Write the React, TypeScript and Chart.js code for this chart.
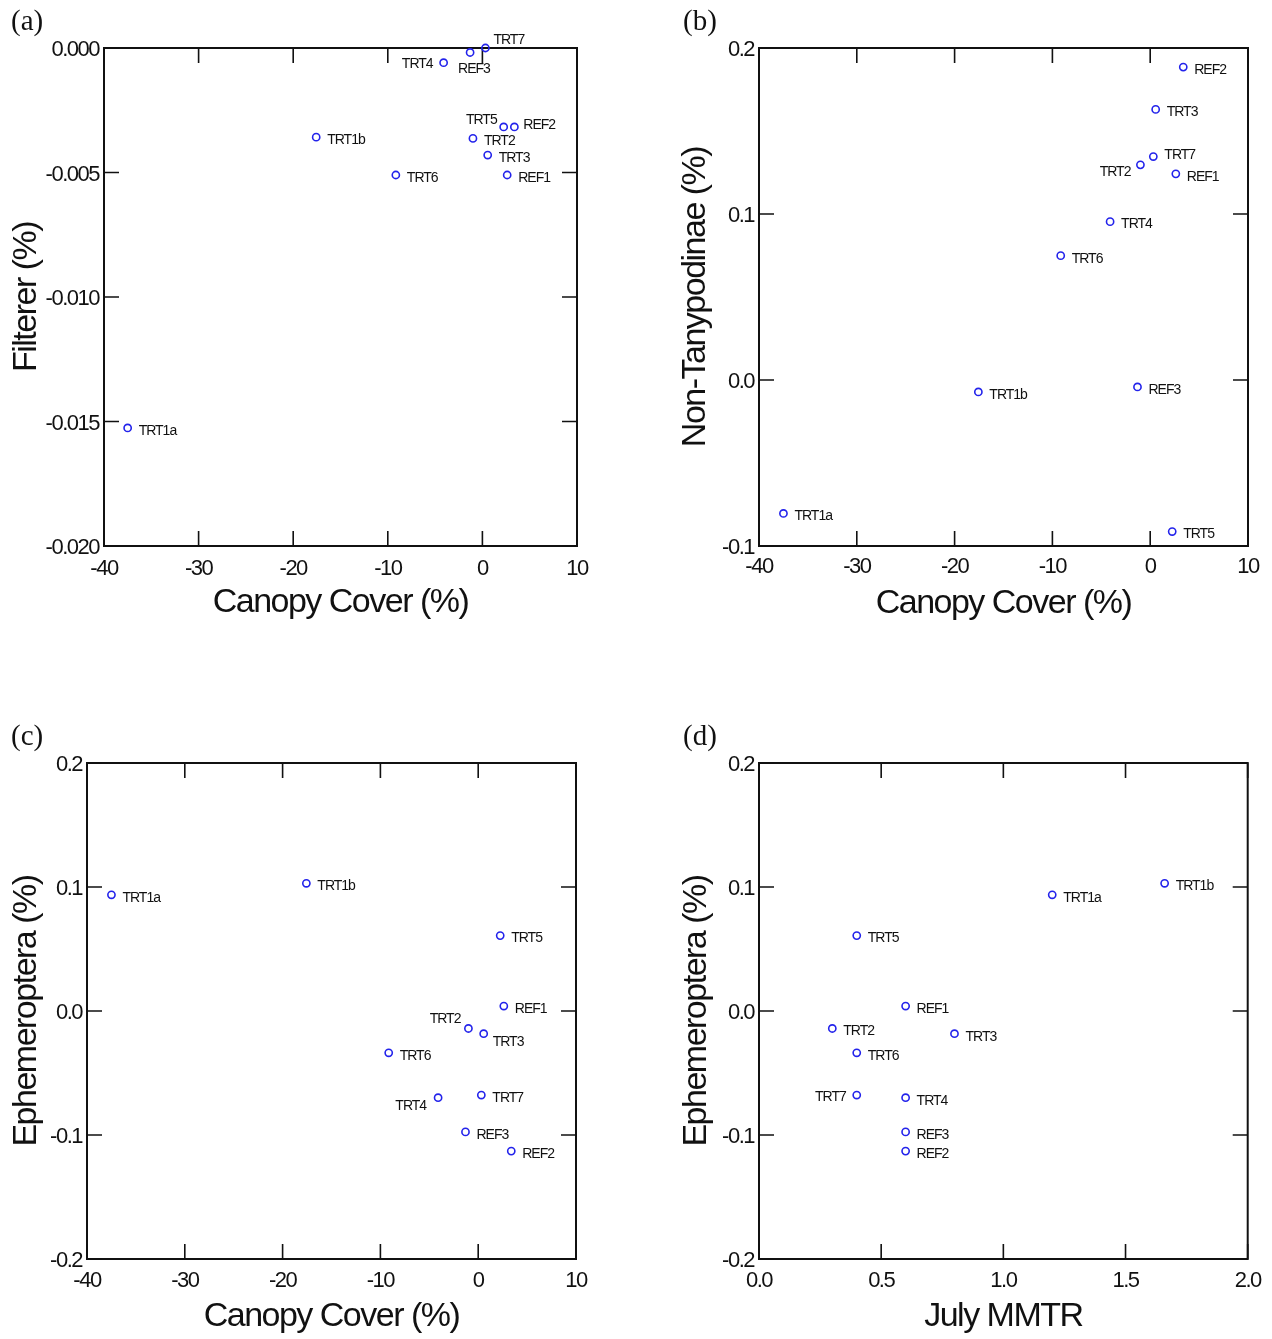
import React, { useEffect, useRef } from "react";
import { Chart, registerables } from "chart.js";

Chart.register(...registerables);

// ---------------- DATA ----------------
const sites = ["TRT1a", "TRT1b", "TRT2", "TRT3", "TRT4", "TRT5", "TRT6", "TRT7", "REF1", "REF2", "REF3"];
const canopyCover = [-37.5, -17.57, -1.0, 0.56, -4.1, 2.25, -9.15, 0.32, 2.62, 3.38, -1.3];
const filterer = [-0.01526, -0.00358, -0.00363, -0.0043, -0.00059, -0.00317, -0.0051, 0.0, -0.0051, -0.00317, -0.00018];
const nonTanypodinae = [-0.0804, -0.0072, 0.1296, 0.163, 0.0954, -0.0913, 0.0749, 0.1346, 0.1242, 0.1885, -0.0042];
const ephemeroptera = [0.0937, 0.103, -0.0141, -0.0183, -0.0699, 0.0608, -0.0337, -0.0678, 0.004, -0.113, -0.0975];
const julyMMTR = [1.2, 1.66, 0.3, 0.8, 0.6, 0.4, 0.4, 0.4, 0.6, 0.6, 0.6];

const canopyTicks = [-40, -30, -20, -10, 0, 10];
const mmtrTicks = [0.0, 0.5, 1.0, 1.5, 2.0];
const filtererTicks = [-0.02, -0.015, -0.01, -0.005, 0.0];
const nonTanyTicks = [-0.1, 0.0, 0.1, 0.2];
const ephemTicks = [-0.2, -0.1, 0.0, 0.1, 0.2];

// -------------- STYLE / LAYOUT --------------
const SANS = "'Liberation Sans', Arial, Helvetica, sans-serif";
const SERIF = "'Liberation Serif', 'Times New Roman', serif";
const POINT_COLOR = "rgb(35,35,235)";
const INK = "#111";

type Off = [number, number, "left" | "right"];
const DEF: Off = [11, 3, "left"];

// label offsets per site (styling only)
const offsA: Record<string, Off> = {
  TRT7: [8, -8, "left"],
  REF3: [-12, 17, "left"],
  TRT4: [-11, 1, "right"],
  TRT5: [-7, -7, "right"],
  REF2: [9, -2, "left"],
};
const offsB: Record<string, Off> = {
  TRT2: [-10, 7, "right"],
  TRT7: [11, -1, "left"],
};
const offsC: Record<string, Off> = {
  TRT2: [-8, -9, "right"],
  TRT3: [9, 8, "left"],
  TRT4: [-12, 8, "right"],
};
const offsD: Record<string, Off> = {
  TRT7: [-11, 2, "right"],
};

type PanelCfg = {
  letter: string;
  left: number; top: number; w: number; h: number;
  L: number; T: number; R: number; B: number;
  xs: number[]; ys: number[];
  xTicks: number[]; yTicks: number[];
  xDec: number; yDec: number;
  xTitle: string; yTitle: string;
  xTitlePad: number; yTitlePad: number; xTickPad: number;
  letterX: number; letterY: number;
  offs: Record<string, Off>;
};

const panels: PanelCfg[] = [
  {
    letter: "(a)", left: 0, top: 0, w: 640, h: 640,
    L: 104, T: 48, R: 577, B: 546,
    xs: canopyCover, ys: filterer, xTicks: canopyTicks, yTicks: filtererTicks,
    xDec: 0, yDec: 3, xTitle: "Canopy Cover (%)", yTitle: "Filterer (%)",
    xTitlePad: 17, yTitlePad: 6, xTickPad: 10, letterX: 11, letterY: 30, offs: offsA,
  },
  {
    letter: "(b)", left: 640, top: 0, w: 632, h: 640,
    L: 119, T: 48, R: 608, B: 546,
    xs: canopyCover, ys: nonTanypodinae, xTicks: canopyTicks, yTicks: nonTanyTicks,
    xDec: 0, yDec: 1, xTitle: "Canopy Cover (%)", yTitle: "Non-Tanypodinae (%)",
    xTitlePad: 16, yTitlePad: 35, xTickPad: 8, letterX: 43, letterY: 30, offs: offsB,
  },
  {
    letter: "(c)", left: 0, top: 700, w: 640, h: 639,
    L: 87, T: 63, R: 576, B: 559,
    xs: canopyCover, ys: ephemeroptera, xTicks: canopyTicks, yTicks: ephemTicks,
    xDec: 0, yDec: 1, xTitle: "Canopy Cover (%)", yTitle: "Ephemeroptera (%)",
    xTitlePad: 2, yTitlePad: 6, xTickPad: 9, letterX: 11, letterY: 45, offs: offsC,
  },
  {
    letter: "(d)", left: 640, top: 700, w: 632, h: 639,
    L: 119, T: 63, R: 608, B: 559,
    xs: julyMMTR, ys: ephemeroptera, xTicks: mmtrTicks, yTicks: ephemTicks,
    xDec: 1, yDec: 1, xTitle: "July MMTR", yTitle: "Ephemeroptera (%)",
    xTitlePad: 2, yTitlePad: 36, xTickPad: 9, letterX: 43, letterY: 45, offs: offsD,
  },
];

function fmt(v: number, dec: number) {
  if (Math.abs(v) < 1e-12) return (0).toFixed(dec);
  return v.toFixed(dec);
}

function buildConfig(p: PanelCfg): any {
  const deco = {
    id: "deco",
    beforeDraw(chart: any) {
      (chart.ctx as any).letterSpacing = "-1.5px";
    },
    beforeDatasetsDraw(chart: any) {
      const ctx = chart.ctx;
      const { left, top, right, bottom } = chart.chartArea;
      const xs = chart.scales.x;
      const ys = chart.scales.y;
      ctx.save();
      ctx.strokeStyle = INK;
      ctx.lineWidth = 2;
      ctx.strokeRect(left, top, right - left, bottom - top);
      ctx.lineWidth = 1.6;
      const TL = 15;
      ctx.beginPath();
      for (const t of xs.ticks) {
        const px = xs.getPixelForValue(t.value);
        ctx.moveTo(px, bottom);
        ctx.lineTo(px, bottom - TL);
        ctx.moveTo(px, top);
        ctx.lineTo(px, top + TL);
      }
      for (const t of ys.ticks) {
        const py = ys.getPixelForValue(t.value);
        ctx.moveTo(left, py);
        ctx.lineTo(left + TL, py);
        ctx.moveTo(right, py);
        ctx.lineTo(right - TL, py);
      }
      ctx.stroke();
      ctx.restore();
    },
    afterDatasetsDraw(chart: any) {
      const ctx = chart.ctx;
      const meta = chart.getDatasetMeta(0);
      ctx.save();
      (ctx as any).letterSpacing = "-1px";
      ctx.font = `14px ${SANS}`;
      ctx.fillStyle = INK;
      ctx.textBaseline = "middle";
      meta.data.forEach((el: any, i: number) => {
        const name = sites[i];
        const o = p.offs[name] || DEF;
        ctx.textAlign = o[2];
        ctx.fillText(name, el.x + o[0], el.y + o[1]);
      });
      ctx.restore();
    },
    afterDraw(chart: any) {
      const ctx = chart.ctx;
      ctx.save();
      (ctx as any).letterSpacing = "0px";
      ctx.font = `29px ${SERIF}`;
      ctx.fillStyle = INK;
      ctx.textAlign = "left";
      ctx.textBaseline = "alphabetic";
      ctx.fillText(p.letter, p.letterX, p.letterY);
      ctx.restore();
    },
  };

  const tickFont = { family: SANS, size: 22 };
  const titleFont = { family: SANS, size: 34 };

  return {
    type: "scatter",
    data: {
      datasets: [
        {
          data: p.xs.map((x, i) => ({ x, y: p.ys[i] })),
          pointStyle: "circle",
          pointRadius: 3.6,
          pointBorderWidth: 1.6,
          borderColor: POINT_COLOR,
          pointBorderColor: POINT_COLOR,
          backgroundColor: "rgba(0,0,0,0)",
          pointBackgroundColor: "rgba(0,0,0,0)",
          showLine: false,
          clip: false,
        },
      ],
    },
    options: {
      animation: false,
      responsive: false,
      maintainAspectRatio: false,
      events: [],
      layout: { padding: { left: 0, top: p.T, right: p.w - p.R, bottom: 0 } },
      plugins: { legend: { display: false }, tooltip: { enabled: false } },
      scales: {
        x: {
          type: "linear",
          position: "bottom",
          min: p.xTicks[0],
          max: p.xTicks[p.xTicks.length - 1],
          afterBuildTicks: (s: any) => {
            s.ticks = p.xTicks.map((v) => ({ value: v }));
          },
          afterFit: (s: any) => {
            s.height = p.h - p.B;
          },
          grid: { display: false, drawTicks: false },
          border: { display: false },
          ticks: {
            autoSkip: false,
            maxRotation: 0,
            minRotation: 0,
            padding: p.xTickPad,
            color: INK,
            font: tickFont,
            callback: (v: any) => fmt(Number(v), p.xDec),
          },
          title: {
            display: true,
            text: p.xTitle,
            color: INK,
            font: titleFont,
            padding: { top: 0, bottom: p.xTitlePad },
          },
        },
        y: {
          type: "linear",
          position: "left",
          min: p.yTicks[0],
          max: p.yTicks[p.yTicks.length - 1],
          afterBuildTicks: (s: any) => {
            s.ticks = p.yTicks.map((v) => ({ value: v }));
          },
          afterFit: (s: any) => {
            s.width = p.L;
          },
          grid: { display: false, drawTicks: false },
          border: { display: false },
          ticks: {
            autoSkip: false,
            padding: 5,
            labelOffset: 2,
            color: INK,
            font: tickFont,
            callback: (v: any) => fmt(Number(v), p.yDec),
          },
          title: {
            display: true,
            text: p.yTitle,
            color: INK,
            font: titleFont,
            padding: { top: p.yTitlePad, bottom: 0 },
          },
        },
      },
    },
    plugins: [deco],
  };
}

function Panel({ p }: { p: PanelCfg }) {
  const ref = useRef<HTMLCanvasElement>(null);
  useEffect(() => {
    const chart = new Chart(ref.current as HTMLCanvasElement, buildConfig(p));
    return () => chart.destroy();
  }, [p]);
  return (
    <canvas
      ref={ref}
      width={p.w}
      height={p.h}
      style={{ position: "absolute", left: p.left, top: p.top, width: p.w, height: p.h }}
    />
  );
}

export default function App() {
  return (
    <div
      style={{
        position: "absolute",
        left: 0,
        top: 0,
        width: 1272,
        height: 1339,
        background: "#ffffff",
        overflow: "hidden",
      }}
    >
      {panels.map((p) => (
        <Panel key={p.letter} p={p} />
      ))}
    </div>
  );
}
